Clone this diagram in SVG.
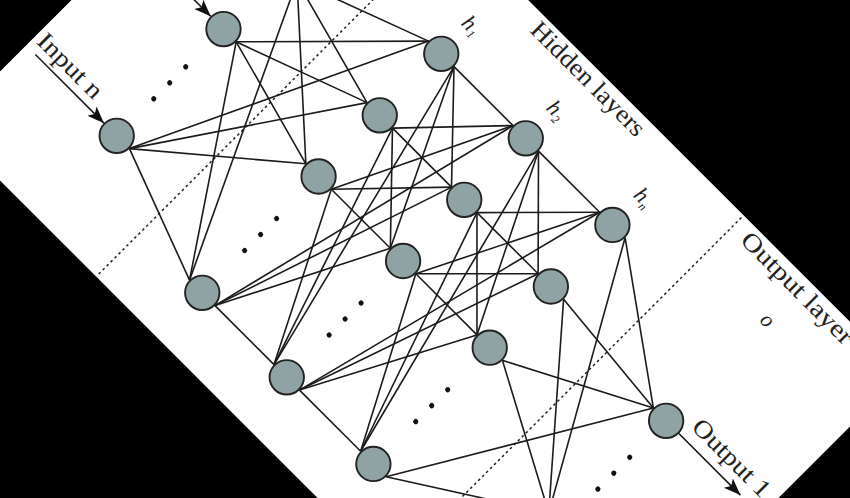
<svg xmlns="http://www.w3.org/2000/svg" width="850" height="498" viewBox="0 0 850 498">
<defs>
<style>
.edge line{stroke:#1b1b1b;stroke-width:1.6;fill:none}
.arrow{stroke:#1b1b1b;stroke-width:1.7;fill:none}
.node circle{fill:#8fa3a5;stroke:#222;stroke-width:1.9}
.sep{stroke:#222;stroke-width:1.5;stroke-dasharray:2.6 3;fill:none}
.lbl{font-family:"Liberation Serif","DejaVu Serif",serif;font-size:25px;fill:#222}
.math{font-family:"Liberation Serif","DejaVu Serif",serif;font-style:italic;font-size:22px;fill:#222}
.sub{font-size:12px}
.dot{fill:#111}
</style>
<marker id="ah" markerUnits="userSpaceOnUse" markerWidth="18" markerHeight="14" refX="17" refY="6.5" orient="auto">
<path d="M0,0 L17,6.5 L0,13 L4,6.5 Z" fill="#111"/>
</marker>
</defs>
<rect x="0" y="0" width="850" height="498" fill="#000"/>
<g transform="rotate(45 425 249)">
<rect x="-1" y="0" width="852" height="501" fill="#fff"/>
<g id="separators">
<line class="sep" x1="212" y1="2" x2="212" y2="498"/>
<line class="sep" x1="626.5" y1="3" x2="626.5" y2="498"/>
</g>
<g id="connectors" class="edge">
<line x1="145" y1="150" x2="280.5" y2="99.5"/>
<line x1="145" y1="150" x2="280.5" y2="186.5"/>
<line x1="145" y1="150" x2="280.5" y2="273"/>
<line x1="145" y1="150" x2="280.5" y2="437.5"/>
<line x1="145" y1="236" x2="280.5" y2="99.5"/>
<line x1="145" y1="236" x2="280.5" y2="186.5"/>
<line x1="145" y1="236" x2="280.5" y2="273"/>
<line x1="145" y1="236" x2="280.5" y2="437.5"/>
<line x1="145" y1="387" x2="280.5" y2="99.5"/>
<line x1="145" y1="387" x2="280.5" y2="186.5"/>
<line x1="145" y1="387" x2="280.5" y2="273"/>
<line x1="145" y1="387" x2="280.5" y2="437.5"/>
<line x1="316.5" y1="99.5" x2="400" y2="99.5"/>
<line x1="316.5" y1="99.5" x2="400" y2="186.5"/>
<line x1="316.5" y1="99.5" x2="400" y2="273"/>
<line x1="316.5" y1="99.5" x2="400" y2="437.5"/>
<line x1="316.5" y1="186.5" x2="400" y2="99.5"/>
<line x1="316.5" y1="186.5" x2="400" y2="186.5"/>
<line x1="316.5" y1="186.5" x2="400" y2="273"/>
<line x1="316.5" y1="186.5" x2="400" y2="437.5"/>
<line x1="316.5" y1="273" x2="400" y2="99.5"/>
<line x1="316.5" y1="273" x2="400" y2="186.5"/>
<line x1="316.5" y1="273" x2="400" y2="273"/>
<line x1="316.5" y1="273" x2="400" y2="437.5"/>
<line x1="316.5" y1="437.5" x2="400" y2="99.5"/>
<line x1="316.5" y1="437.5" x2="400" y2="186.5"/>
<line x1="316.5" y1="437.5" x2="400" y2="273"/>
<line x1="316.5" y1="437.5" x2="400" y2="437.5"/>
<line x1="436" y1="99.5" x2="522.5" y2="99.5"/>
<line x1="436" y1="99.5" x2="522.5" y2="186.5"/>
<line x1="436" y1="99.5" x2="522.5" y2="273"/>
<line x1="436" y1="99.5" x2="522.5" y2="437.5"/>
<line x1="436" y1="186.5" x2="522.5" y2="99.5"/>
<line x1="436" y1="186.5" x2="522.5" y2="186.5"/>
<line x1="436" y1="186.5" x2="522.5" y2="273"/>
<line x1="436" y1="186.5" x2="522.5" y2="437.5"/>
<line x1="436" y1="273" x2="522.5" y2="99.5"/>
<line x1="436" y1="273" x2="522.5" y2="186.5"/>
<line x1="436" y1="273" x2="522.5" y2="273"/>
<line x1="436" y1="273" x2="522.5" y2="437.5"/>
<line x1="436" y1="437.5" x2="522.5" y2="99.5"/>
<line x1="436" y1="437.5" x2="522.5" y2="186.5"/>
<line x1="436" y1="437.5" x2="522.5" y2="273"/>
<line x1="436" y1="437.5" x2="522.5" y2="437.5"/>
<line x1="558.5" y1="99.5" x2="699" y2="200"/>
<line x1="558.5" y1="186.5" x2="699" y2="200"/>
<line x1="558.5" y1="273" x2="699" y2="200"/>
<line x1="558.5" y1="437.5" x2="699" y2="200"/>
<line x1="558.5" y1="99.5" x2="699" y2="348"/>
<line x1="558.5" y1="186.5" x2="699" y2="348"/>
<line x1="558.5" y1="273" x2="699" y2="348"/>
<line x1="558.5" y1="437.5" x2="699" y2="348"/>
<line class="arrow" x1="12" y1="236" x2="109" y2="236" marker-end="url(#ah)"/>
<line class="arrow" x1="12" y1="387" x2="109" y2="387" marker-end="url(#ah)"/>
<line class="arrow" x1="735" y1="200" x2="822" y2="200" marker-end="url(#ah)"/>
</g>
<g id="input-layer">
<g id="in-1" class="node"><circle cx="127" cy="150" r="17.2"/></g>
<g id="in-2" class="node"><circle cx="127" cy="236" r="17.2"/></g>
<g id="in-n" class="node"><circle cx="127" cy="387" r="17.2"/></g>
<g id="in-dots"><circle class="dot" cx="127" cy="289.4" r="2.6"/><circle class="dot" cx="127" cy="312" r="2.6"/><circle class="dot" cx="127" cy="334.6" r="2.6"/></g>
</g>
<g id="hidden-1">
<g id="h1-1" class="node"><circle cx="298.5" cy="99.5" r="17.2"/></g>
<g id="h1-2" class="node"><circle cx="298.5" cy="186.5" r="17.2"/></g>
<g id="h1-3" class="node"><circle cx="298.5" cy="273" r="17.2"/></g>
<g id="h1-4" class="node"><circle cx="298.5" cy="437.5" r="17.2"/></g>
<g id="h1-dots"><circle class="dot" cx="298.5" cy="332.4" r="2.6"/><circle class="dot" cx="298.5" cy="355" r="2.6"/><circle class="dot" cx="298.5" cy="377.6" r="2.6"/></g>
</g>
<g id="hidden-2">
<g id="h2-1" class="node"><circle cx="418" cy="99.5" r="17.2"/></g>
<g id="h2-2" class="node"><circle cx="418" cy="186.5" r="17.2"/></g>
<g id="h2-3" class="node"><circle cx="418" cy="273" r="17.2"/></g>
<g id="h2-4" class="node"><circle cx="418" cy="437.5" r="17.2"/></g>
<g id="h2-dots"><circle class="dot" cx="418" cy="332.4" r="2.6"/><circle class="dot" cx="418" cy="355" r="2.6"/><circle class="dot" cx="418" cy="377.6" r="2.6"/></g>
</g>
<g id="hidden-n">
<g id="hn-1" class="node"><circle cx="540.5" cy="99.5" r="17.2"/></g>
<g id="hn-2" class="node"><circle cx="540.5" cy="186.5" r="17.2"/></g>
<g id="hn-3" class="node"><circle cx="540.5" cy="273" r="17.2"/></g>
<g id="hn-4" class="node"><circle cx="540.5" cy="437.5" r="17.2"/></g>
<g id="hn-dots"><circle class="dot" cx="540.5" cy="332.4" r="2.6"/><circle class="dot" cx="540.5" cy="355" r="2.6"/><circle class="dot" cx="540.5" cy="377.6" r="2.6"/></g>
</g>
<g id="output-layer">
<g id="out-1" class="node"><circle cx="717" cy="200" r="17.2"/></g>
<g id="out-m" class="node"><circle cx="717" cy="348" r="17.2"/></g>
<g id="out-dots"><circle class="dot" cx="717" cy="251.5" r="2.6"/><circle class="dot" cx="717" cy="274" r="2.6"/><circle class="dot" cx="717" cy="296.5" r="2.6"/></g>
</g>
<g id="labels">
<text class="lbl" x="420" y="21.5" text-anchor="middle" textLength="151" lengthAdjust="spacingAndGlyphs">Hidden layers</text>
<text class="lbl" x="716" y="21.5" text-anchor="middle" textLength="148" lengthAdjust="spacingAndGlyphs">Output layer</text>
<text class="lbl" x="3.5" y="378.5" textLength="82" lengthAdjust="spacingAndGlyphs">Input n</text>
<text class="lbl" x="739.5" y="188" textLength="100" lengthAdjust="spacingAndGlyphs">Output 1</text>
<text class="math" x="291" y="65">h<tspan class="sub" dx="0.5" dy="4">1</tspan></text>
<text class="math" x="411" y="65">h<tspan class="sub" dx="0.5" dy="4">2</tspan></text>
<text class="math" x="534.5" y="65">h<tspan class="sub" dx="0.5" dy="4">n</tspan></text>
<text class="math" x="712" y="64">o</text>
</g>
</g>
</svg>
